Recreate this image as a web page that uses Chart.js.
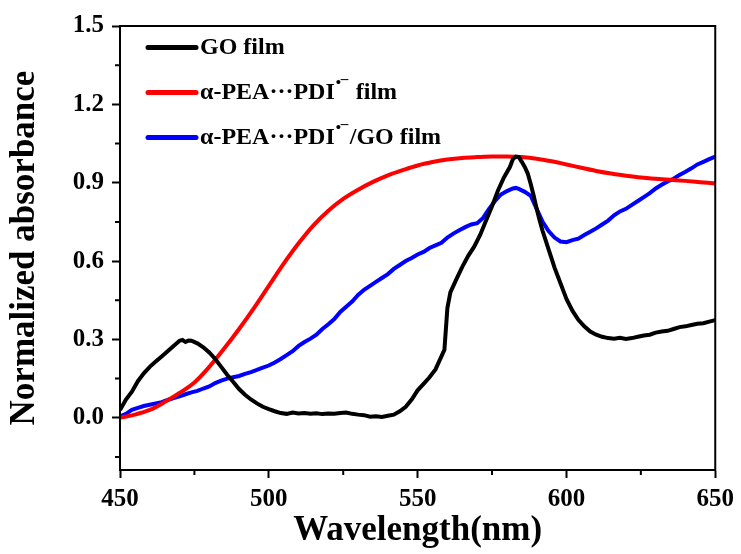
<!DOCTYPE html>
<html>
<head>
<meta charset="utf-8">
<script src="https://cdn.jsdelivr.net/npm/chart.js@4/dist/chart.umd.min.js"></script>
<style>
  html, body { margin: 0; padding: 0; background: #fff; }
  #wrap { width: 741px; height: 554px; }
</style>
</head>
<body>
<div id="wrap"><canvas id="c" width="741" height="554"></canvas></div>
<script>
// ---- Data ----
const seriesLabels = ["GO film", "α-PEA···PDI", "α-PEA···PDI"];
const labelTails = [" ", " film", "/GO film"];

const goWavelength = [450,452,454,456,458,460,462,464,466,468,470,471,472,473,474,476,478,480,482,484,486,488,490,492,494,496,498,500,502,504,506,508,510,512,514,516,518,520,522,524,526,528,530,532,534,536,538,540,542,544,546,548,550,552,554,556,558,559,560,561,563,565,567,569,571,573,575,577,579,581,582,583,584,585,586,587,588,589,590,591,592,593,594,595,596,597,598,599,600,602,604,606,608,610,612,614,616,618,620,622,624,626,628,630,632,634,636,638,640,642,644,646,648,650];
const goAbs = [0.03,0.07,0.10,0.14,0.17,0.195,0.215,0.235,0.255,0.275,0.295,0.298,0.29,0.296,0.295,0.285,0.27,0.25,0.225,0.195,0.165,0.138,0.11,0.088,0.07,0.055,0.042,0.033,0.025,0.018,0.015,0.02,0.016,0.018,0.015,0.017,0.014,0.016,0.015,0.018,0.02,0.015,0.012,0.01,0.004,0.006,0.003,0.008,0.012,0.025,0.042,0.07,0.105,0.13,0.155,0.185,0.235,0.26,0.42,0.48,0.53,0.578,0.62,0.655,0.70,0.755,0.81,0.87,0.92,0.96,0.99,1.0,0.998,0.98,0.96,0.935,0.895,0.85,0.80,0.755,0.715,0.68,0.645,0.61,0.575,0.545,0.515,0.485,0.455,0.41,0.375,0.35,0.33,0.318,0.31,0.305,0.303,0.306,0.302,0.305,0.31,0.315,0.318,0.326,0.33,0.333,0.34,0.347,0.35,0.355,0.36,0.362,0.368,0.374];

const peaWavelength = [450,455,460,465,470,475,480,485,490,495,500,505,510,515,520,525,530,535,540,545,550,555,560,565,570,575,580,585,590,595,600,605,610,615,620,625,630,635,640,645,650];
const peaAbs = [0,0.012,0.03,0.06,0.095,0.135,0.195,0.265,0.34,0.42,0.505,0.59,0.668,0.737,0.793,0.838,0.873,0.903,0.928,0.948,0.966,0.979,0.989,0.995,0.998,1.0,1.0,0.998,0.992,0.982,0.97,0.957,0.945,0.935,0.927,0.92,0.915,0.911,0.907,0.902,0.897];

const hybWavelength = [450,452,454,456,458,460,462,464,466,468,470,472,474,476,478,480,482,484,486,488,490,492,494,496,498,500,502,504,506,508,510,512,514,516,518,520,522,524,526,528,530,532,534,536,538,540,542,544,546,548,550,552,554,556,558,560,562,564,566,568,570,572,574,576,578,580,582,583,584,586,588,590,592,594,596,598,600,602,604,606,608,610,612,614,616,618,620,622,624,626,628,630,632,634,636,638,640,642,644,646,648,650];
const hybAbs = [0.005,0.015,0.03,0.038,0.045,0.05,0.055,0.06,0.068,0.075,0.082,0.09,0.097,0.103,0.112,0.12,0.133,0.142,0.15,0.155,0.16,0.168,0.175,0.183,0.192,0.2,0.212,0.225,0.24,0.255,0.275,0.29,0.303,0.318,0.34,0.358,0.378,0.405,0.425,0.445,0.47,0.49,0.505,0.52,0.535,0.55,0.57,0.585,0.6,0.612,0.625,0.635,0.65,0.66,0.67,0.69,0.705,0.718,0.73,0.74,0.745,0.765,0.80,0.83,0.855,0.868,0.878,0.88,0.876,0.865,0.85,0.80,0.75,0.715,0.69,0.675,0.672,0.68,0.686,0.70,0.712,0.725,0.74,0.755,0.775,0.79,0.80,0.815,0.83,0.845,0.86,0.878,0.892,0.905,0.915,0.93,0.942,0.955,0.97,0.98,0.99,1.0];

const xMajorTicks = [450,500,550,600,650];
const xMinorTicks = [475,525,575,625];
const yMajorTicks = [0.0,0.3,0.6,0.9,1.2,1.5];
const yMinorTicks = [-0.15,0.15,0.45,0.75,1.05,1.35];
const lineColors = ["#000000", "#ff0000", "#0000ff"];

const toPoints = (xs, ys) => xs.map((x, i) => ({ x: x, y: ys[i] }));
const FONT = "'Liberation Serif', 'Times New Roman', serif";

const framePlugin = {
  id: 'frame',
  afterDraw(chart) {
    const ctx = chart.ctx, a = chart.chartArea;
    const xs = chart.scales.x, ys = chart.scales.y;
    ctx.save();
    ctx.strokeStyle = '#000';
    ctx.lineWidth = 2;
    ctx.strokeRect(a.left, a.top, a.right - a.left, a.bottom - a.top);
    ctx.beginPath();
    xMinorTicks.forEach(v => {
      const px = xs.getPixelForValue(v);
      ctx.moveTo(px, a.bottom); ctx.lineTo(px, a.bottom + 5);
    });
    yMinorTicks.forEach(v => {
      const py = ys.getPixelForValue(v);
      ctx.moveTo(a.left, py); ctx.lineTo(a.left - 5, py);
    });
    ctx.stroke();

    // legend inside plot area
    const rowY = [47.5, 92.5, 137.5];
    chart.data.datasets.forEach((ds, i) => {
      const y = rowY[i];
      ctx.strokeStyle = ds.borderColor;
      ctx.lineWidth = 5;
      ctx.lineCap = 'round';
      ctx.beginPath();
      ctx.moveTo(148, y); ctx.lineTo(196, y);
      ctx.stroke();
      ctx.fillStyle = '#000';
      ctx.textBaseline = 'middle';
      ctx.font = "bold 24px " + FONT;
      let x = 200;
      ctx.fillText(seriesLabels[i], x, y);
      x += ctx.measureText(seriesLabels[i]).width;
      if (i > 0) {
        ctx.font = "bold 15px " + FONT;
        ctx.fillText("•", x + 1, y - 9);
        ctx.fillText("–", x + 6, y - 13);
        x += 15;
        ctx.font = "bold 24px " + FONT;
        ctx.fillText(labelTails[i], x, y);
      }
    });
    ctx.restore();
  }
};

new Chart(document.getElementById('c'), {
  type: 'line',
  data: {
    datasets: [
      { label: "GO film", data: toPoints(goWavelength, goAbs), borderColor: lineColors[0], borderWidth: 4, pointRadius: 0, tension: 0 },
      { label: "α-PEA···PDI•– film", data: toPoints(peaWavelength, peaAbs), borderColor: lineColors[1], borderWidth: 4, pointRadius: 0, cubicInterpolationMode: 'monotone' },
      { label: "α-PEA···PDI•–/GO film", data: toPoints(hybWavelength, hybAbs), borderColor: lineColors[2], borderWidth: 4, pointRadius: 0, tension: 0 }
    ]
  },
  options: {
    responsive: false,
    animation: false,
    events: [],
    layout: { padding: { top: 26, right: 25, left: 0, bottom: 0 } },
    plugins: { legend: { display: false }, tooltip: { enabled: false } },
    scales: {
      x: {
        type: 'linear', min: 450, max: 650,
        afterBuildTicks: s => { s.ticks = xMajorTicks.map(v => ({ value: v })); },
        afterFit: s => { s.height = 84; },
        grid: { display: true, drawOnChartArea: false, tickLength: 8, tickWidth: 2, tickColor: '#000' },
        border: { display: true, color: '#000', width: 2 },
        ticks: { color: '#000', padding: 7, font: { family: FONT, weight: 'bold', size: 25 }, maxRotation: 0 },
        title: { display: true, text: 'Wavelength(nm)', color: '#000', padding: { top: 0, bottom: 2 }, font: { family: FONT, weight: 'bold', size: 35 } }
      },
      y: {
        type: 'linear', min: -0.2, max: 1.5,
        afterBuildTicks: s => { s.ticks = yMajorTicks.map(v => ({ value: v })); },
        afterFit: s => { s.width = 120; },
        grid: { display: true, drawOnChartArea: false, tickLength: 8, tickWidth: 2, tickColor: '#000' },
        border: { display: true, color: '#000', width: 2 },
        ticks: { color: '#000', padding: 8, font: { family: FONT, weight: 'bold', size: 25 }, callback: v => v.toFixed(1) },
        title: { display: true, text: 'Normalized absorbance', color: '#000', padding: { top: 4, bottom: 0 }, font: { family: FONT, weight: 'bold', size: 35 } }
      }
    }
  },
  plugins: [framePlugin]
});
</script>
</body>
</html>
